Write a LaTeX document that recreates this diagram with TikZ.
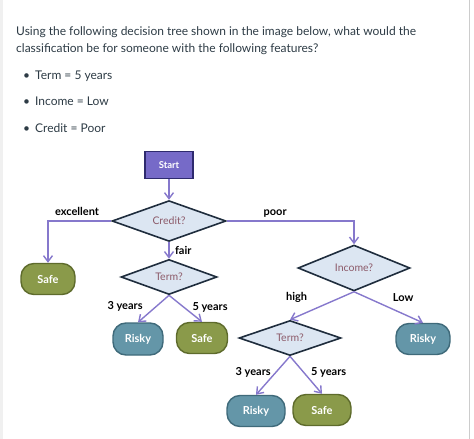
\documentclass[tikz,border=0pt]{standalone}
\usepackage{fontspec}
\setmainfont{Lato}
\usetikzlibrary{positioning,arrows.meta,shapes.geometric}
\definecolor{qtext}{RGB}{45,59,69}
\definecolor{edgepurple}{RGB}{134,120,204}
\definecolor{startfill}{RGB}{118,106,200}
\definecolor{startdraw}{RGB}{46,42,110}
\definecolor{decfill}{RGB}{220,230,242}
\definecolor{decdraw}{RGB}{31,45,61}
\definecolor{dectext}{RGB}{140,90,105}
\definecolor{safefill}{RGB}{138,154,74}
\definecolor{safedraw}{RGB}{94,107,44}
\definecolor{riskyfill}{RGB}{100,150,168}
\definecolor{riskydraw}{RGB}{63,106,122}
\tikzset{
  qline/.style    = {anchor=base west, inner sep=0pt, text=qtext, font=\fontsize{12}{12}\selectfont},
  startbox/.style = {draw=startdraw, fill=startfill, line width=1.2pt, minimum width=48pt, minimum height=27pt, text=white, font=\fontsize{9.5}{9.5}\selectfont\bfseries},
  decision/.style = {diamond, draw=decdraw, fill=decfill, line width=1.6pt, inner sep=0pt, text=dectext, font=\fontsize{10.5}{10.5}\selectfont},
  leaf/.style     = {rounded corners=13pt, line width=1.4pt, minimum width=54pt, minimum height=31pt, text=white, font=\fontsize{11}{11}\selectfont\bfseries},
  safe/.style     = {leaf, draw=safedraw, fill=safefill},
  risky/.style    = {leaf, draw=riskydraw, fill=riskyfill},
  flow/.style     = {-{Straight Barb[length=6pt,width=9pt]}, line width=1.4pt, draw=edgepurple},
  lbl/.style      = {font=\fontsize{11}{11}\selectfont\bfseries},
}

\begin{document}
\begin{tikzpicture}[x=1pt,y=-1pt]
  \useasboundingbox (0,0) rectangle (474,439);
  \fill[black!6] (0,0) rectangle (3,439);
  \draw[black!20] (469,0) -- (469,439);

  % question
  \node[qline] (q1) at (16,35) {Using the following decision tree shown in the image below, what would the};
  \node[qline] (q2) at (16,52) {classification be for someone with the following features?};
  \node[qline] (fterm) at (23,79) {\makebox[12pt][l]{•}Term = 5 years};
  \node[qline] (fincome) at (23,105) {\makebox[12pt][l]{•}Income = Low};
  \node[qline] (fcredit) at (23,132) {\makebox[12pt][l]{•}Credit = Poor};

  % tree
  \node[startbox] (start) at (169,165) {Start};
  \node[decision, minimum width=114pt, minimum height=29pt] (credit) at (169,221) {Credit?};
  \node[safe] (safeA) at (48,279) {Safe};
  \node[decision, minimum width=96pt, minimum height=28pt] (termA) at (169,277) {Term?};
  \node[risky, minimum width=50pt, minimum height=32pt] (riskyA) at (138,339) {Risky};
  \node[safe, minimum width=51pt] (safeB) at (202,338) {Safe};
  \node[decision, minimum width=112pt, minimum height=28pt] (income) at (354,268) {Income?};
  \node[decision, minimum width=102pt, minimum height=29pt] (termB) at (290,338) {Term?};
  \node[risky] (riskyB) at (423,339) {Risky};
  \node[risky, minimum width=58pt] (riskyC) at (256,411) {Risky};
  \node[safe, minimum width=58pt] (safeC) at (322,410) {Safe};

  \draw[flow] (start) -- (credit);
  \draw[flow] (credit.west) -| node[lbl, pos=.27, above=1pt] {excellent} (safeA.north);
  \draw[flow] (credit) -- node[lbl, right=2pt] {fair} (termA);
  \draw[flow] (credit.east) -| node[lbl, pos=.19, above=0pt] {poor} (income.north);
  \draw[flow] (termA.south) -- node[lbl, pos=.4, left=10pt] {3 years} (riskyA.north);
  \draw[flow] (termA.south) -- node[lbl, pos=.47, right=4pt] {5 years} (safeB.north);
  \draw[flow] (income.south) -- node[lbl, pos=.2, left=30pt] {high} (termB.north);
  \draw[flow] (income.south) -- node[lbl, pos=.2, right=21pt] {Low} (riskyB.north);
  \draw[flow] (termB.south) -- node[lbl, pos=.42, left=1pt] {3 years} (riskyC.north);
  \draw[flow] (termB.south) -- node[lbl, pos=.44, right=3pt] {5 years} (safeC.north);
\end{tikzpicture}
\end{document}
